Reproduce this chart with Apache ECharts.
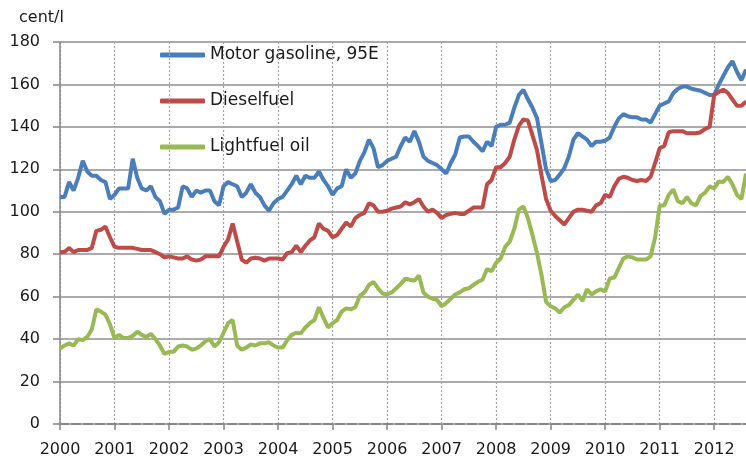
<!DOCTYPE html>
<html>
<head>
<meta charset="utf-8">
<title>Fuel prices</title>
<script src="https://cdn.jsdelivr.net/npm/echarts@6/dist/echarts.min.js"></script>
<style>
  html, body { margin: 0; padding: 0; background: #fff; }
  #chart { width: 746px; height: 464px; }
</style>
</head>
<body>
<div id="chart"></div>
<script>
// monthly data, Jan 2000 - Aug 2012
const years = ['2000', '2001', '2002', '2003', '2004', '2005', '2006',
  '2007', '2008', '2009', '2010', '2011', '2012']
const monthsInLastYear = 8

const gasoline = [
  107, 107, 114, 110, 116, 124, 119, 117, 117, 115, 114, 106,
  108, 111, 111, 111, 125, 116, 111, 110, 112, 107, 105, 99,
  101, 101, 102, 112, 111, 107, 110, 109, 110, 110, 105, 103,
  112, 114, 113, 112, 107, 109, 113, 109, 107, 103, 100.5, 104,
  106, 107, 110, 113, 117, 113, 117, 116, 116, 119, 115, 112,
  108, 111, 112, 120, 116, 118, 124, 128, 134, 130, 121, 122,
  124, 125, 126, 131, 135, 133, 138, 133, 126, 124, 123, 122,
  120, 118, 123, 127, 135, 135.5, 135.5, 133, 131, 128.5, 133, 131,
  140, 141, 141, 142, 149, 155, 157.5, 153, 149, 144, 132, 120,
  114.5, 115, 117.5, 120.5, 126, 134, 137, 135.5, 134, 131, 133, 133,
  133.5, 135, 140, 144, 146, 145, 144.5, 144.5, 143.5, 143.5, 142, 146,
  150, 151, 152, 156, 158, 159, 159, 158, 157.5, 157, 156, 155,
  155, 160, 164, 168, 171, 166, 162, 167
]

const diesel = [
  81, 81, 83, 81, 82, 82, 82, 83, 91, 91.5, 93, 88,
  83.5, 83, 83, 83, 83, 82.5, 82, 82, 82, 81, 80, 78.5,
  79, 78.5, 78, 78, 79, 77.5, 77, 77.5, 79, 79, 79, 79,
  83.5, 87, 94.5, 86, 77.5, 76, 78, 78.3, 78, 77, 78, 78,
  78, 77.5, 80.5, 81, 84, 81, 84, 86.5, 88, 94.5, 92, 91,
  88, 89, 92, 95, 93, 97, 98.5, 99.5, 104, 103, 100, 100,
  100.5, 101.5, 102, 102.5, 104.5, 103.5, 104.5, 106, 102.5, 100, 101, 99.5,
  97, 98.5, 99, 99.5, 99, 99, 100.5, 102, 102, 102, 113, 115,
  121, 121, 123, 126, 134, 140.5, 143.5, 143, 136, 129, 117, 106,
  100.5, 98, 96, 94, 97, 100, 101, 101, 100.5, 100, 103, 104,
  108, 107, 112, 115.5, 116.5, 116, 115, 114.5, 115, 114.5, 116.5, 123,
  130, 131, 137.5, 138, 138, 138, 137, 137, 137, 137.5, 139, 140,
  155, 156.5, 157.5, 156, 153, 150, 150, 152
]

const lightFuelOil = [
  35.5, 37, 38, 37, 40, 39.5, 41, 44.5, 54, 53, 51.5, 47,
  40.5, 42, 40.5, 40.5, 41.5, 43.5, 42, 41, 42.5, 40, 37, 33,
  34, 34, 36.5, 37, 36.5, 35, 35.5, 37, 39, 40, 36.5, 38.5,
  43, 47.5, 49, 37, 35, 36, 37.5, 37, 38, 38, 38.5, 37,
  36, 36, 39.5, 42, 43, 42.7, 45.5, 47.5, 49, 55, 50, 45.5,
  47.5, 49, 53, 54.5, 54, 55, 60.5, 62, 65.5, 67, 64, 61.5,
  61, 62, 64, 66, 68.5, 68, 67.5, 70, 62, 60, 59, 58.5,
  55.5, 57, 59, 61, 62, 63.5, 64, 65.5, 67, 68, 73, 72,
  76, 78, 83.5, 86, 92, 101, 102.5, 97, 89, 80.5, 70, 57.5,
  55.5, 54.5, 52.5, 55, 56, 58.5, 61, 58, 63.5, 61, 62.5, 63.5,
  62.5, 68.5, 69, 73.5, 78, 79, 78.5, 77.5, 77.5, 77.5, 79, 88,
  103, 103, 108, 110.5, 105, 104, 107, 104, 103, 107.5, 109, 112,
  111, 114.3, 114, 116.5, 113, 108, 106, 118
]

const seriesNames = ['Motor gasoline, 95E', 'Dieselfuel', 'Lightfuel oil']
const seriesColors = ['#4a7ebb', '#be4b48', '#98b954']

// month categories like 2000-01
const months = []
years.forEach((y, i) => {
  const n = i === years.length - 1 ? monthsInLastYear : 12
  for (let m = 1; m <= n; m++) {
    months.push(y + '-' + (m < 10 ? '0' + m : m))
  }
})

const font = 'DejaVu Sans'
const axisColor = '#868686'

const chart = echarts.init(document.getElementById('chart'))
const option = {
  animation: false,
  title: {
    text: 'cent/l',
    left: 19,
    top: 10,
    padding: 0,
    textStyle: { fontFamily: font, fontSize: 16, fontWeight: 'normal', color: '#1a1a1a' }
  },
  legend: {
    orient: 'vertical',
    left: 155,
    top: 40,
    itemWidth: 45,
    itemHeight: 5,
    itemGap: 26,
    icon: 'roundRect',
    data: seriesNames,
    textStyle: { fontFamily: font, fontSize: 17, lineHeight: 20, color: '#1a1a1a' }
  },
  grid: { left: 60, right: 0, top: 42, bottom: 40 },
  xAxis: {
    type: 'category',
    data: months,
    boundaryGap: false,
    z: 9,
    axisLine: { show: true, lineStyle: { color: axisColor, type: 'dashed', width: 2 } },
    axisTick: { show: true, interval: 11, length: 6, lineStyle: { color: axisColor, width: 1.5 } },
    axisLabel: {
      interval: 11,
      margin: 18,
      fontFamily: font,
      fontSize: 16,
      color: '#1a1a1a',
      formatter: (v) => v.slice(0, 4)
    },
    splitLine: { show: true, interval: 11, lineStyle: { color: '#a3a3a3', width: 1.2, type: [2, 2] } }
  },
  yAxis: {
    type: 'value',
    min: 0,
    max: 180,
    interval: 20,
    z: 9,
    axisLine: { show: true, lineStyle: { color: axisColor, width: 1.5 } },
    axisTick: { show: true, length: 7, lineStyle: { color: axisColor, width: 1.5 } },
    axisLabel: { margin: 20, fontFamily: font, fontSize: 16, color: '#1a1a1a' },
    splitLine: { show: true, lineStyle: { color: '#8f8f8f', width: 1.5 } }
  },
  series: [gasoline, diesel, lightFuelOil].map((d, i) => ({
    name: seriesNames[i],
    type: 'line',
    data: d,
    symbol: 'none',
    z: 10,
    color: seriesColors[i],
    lineStyle: { width: 4, color: seriesColors[i] }
  }))
}
chart.setOption(option)
</script>
</body>
</html>
